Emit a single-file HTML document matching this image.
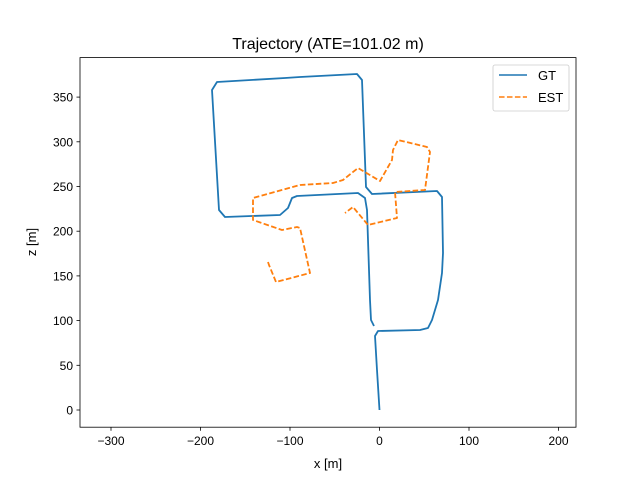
<!DOCTYPE html>
<html><head><meta charset="utf-8"><style>
body{margin:0;background:#fff}
svg{display:block;font-family:"Liberation Sans","DejaVu Sans",sans-serif}
</style></head><body>
<svg id="chart" width="640" height="480" viewBox="0 0 640 480">
<rect width="640" height="480" fill="#fff"/>
<text x="328" y="49" text-anchor="middle" font-size="16">Trajectory (ATE=101.02 m)</text>
<g id="ticks"></g>
<g id="series"></g>
<rect x="80" y="57.6" width="496" height="369.6" fill="none" stroke="#000" stroke-width="0.8"/>
<text x="328" y="468" text-anchor="middle" font-size="13">x [m]</text>
<text transform="translate(36,242) rotate(-90)" text-anchor="middle" font-size="13">z [m]</text>
<g>
<rect x="493" y="65" width="76" height="46" rx="2" fill="#fff" stroke="#ccc" stroke-width="0.8"/>
<line x1="499" y1="75" x2="527" y2="75" stroke="#1f77b4" stroke-width="1.5"/>
<text x="538" y="80" font-size="13">GT</text>
<line x1="499" y1="97" x2="527" y2="97" stroke="#ff7f0e" stroke-width="1.5" stroke-dasharray="5.55 2.4"/>
<text x="538" y="102" font-size="13">EST</text>
</g>
</svg>
<script>
const xTicks=[-300,-200,-100,0,100,200];
const yTicks=[0,50,100,150,200,250,300,350];
const gtX=[0,-2.8,-5.0,-1.7,45.3,54.2,58.7,65.4,69.8,70.9,69.8,64.2,-8.4,-15.1,-19.6,-25.1,-88.8,-105.6,-181.6,-187.2,-179.3,-172.6,-111.2,-102.2,-97.8,-92.2,-24.0,-16.2,-14.0,-10.6,-9.5,-6.1];
const gtZ=[0,44.7,82.8,88.4,89.5,91.7,100.7,123.0,153.2,175.6,238.3,245.0,241.6,249.4,369.1,375.8,372.5,371.4,366.9,357.9,223.7,215.9,218.1,226.0,237.1,239.4,242.7,237.1,223.7,123.0,100.7,94.0];
const estX=[-124.6,-123.5,-115.6,-77.7,-88.8,-92.2,-108.9,-141.3,-141.3,-88.8,-52.0,-40.8,-24.0,0.6,14.0,15.1,20.7,53.1,56.4,50.8,17.3,19.6,-12.8,-29.6,-38.5];
const estZ=[165.5,162.2,143.2,153.2,203.6,204.7,201.3,212.5,237.1,251.7,253.9,257.3,270.7,256.2,279.6,290.8,302.0,294.2,288.6,246.1,243.8,214.8,206.9,227.1,220.4];
const NS='http://www.w3.org/2000/svg';
const sx=v=>379.5+v*0.895;
const sy=v=>410-v*0.894;
const tg=document.getElementById('ticks');
xTicks.forEach(t=>{
 const l=document.createElementNS(NS,'line');
 l.setAttribute('x1',sx(t));l.setAttribute('x2',sx(t));l.setAttribute('y1',427.2);l.setAttribute('y2',430.7);
 l.setAttribute('stroke','#000');l.setAttribute('stroke-width','0.8');
 
 
 tg.appendChild(l);
 const tx=document.createElementNS(NS,'text');
 tx.setAttribute('x',sx(t));tx.setAttribute('y',445);tx.setAttribute('text-anchor','middle');tx.setAttribute('font-size','12');
 tx.textContent=t<0?'\u2212'+(-t):String(t);
 
 
 tg.appendChild(tx);
});
yTicks.forEach(t=>{
 const l=document.createElementNS(NS,'line');
 l.setAttribute('x1',76.5);l.setAttribute('x2',80);l.setAttribute('y1',sy(t));l.setAttribute('y2',sy(t));
 l.setAttribute('stroke','#000');l.setAttribute('stroke-width','0.8');
 
 
 tg.appendChild(l);
 const tx=document.createElementNS(NS,'text');
 tx.setAttribute('x',73);tx.setAttribute('y',sy(t)+4.5);tx.setAttribute('text-anchor','end');tx.setAttribute('font-size','12');
 tx.textContent=String(t);
 
 
 tg.appendChild(tx);
});
const sg=document.getElementById('series');
function poly(xs,zs,color,dash,name){
 const p=document.createElementNS(NS,'polyline');
 p.setAttribute('points',xs.map((x,i)=>sx(x).toFixed(1)+','+sy(zs[i]).toFixed(1)).join(' '));
 p.setAttribute('fill','none');p.setAttribute('stroke',color);p.setAttribute('stroke-width','1.8');
 p.setAttribute('stroke-linejoin','round');
 if(dash)p.setAttribute('stroke-dasharray',dash);
 
 
 sg.appendChild(p);
}
poly(gtX,gtZ,'#1f77b4',null,'gt-trajectory');
poly(estX,estZ,'#ff7f0e','5.55 2.4','est-trajectory');
</script>
</body></html>
